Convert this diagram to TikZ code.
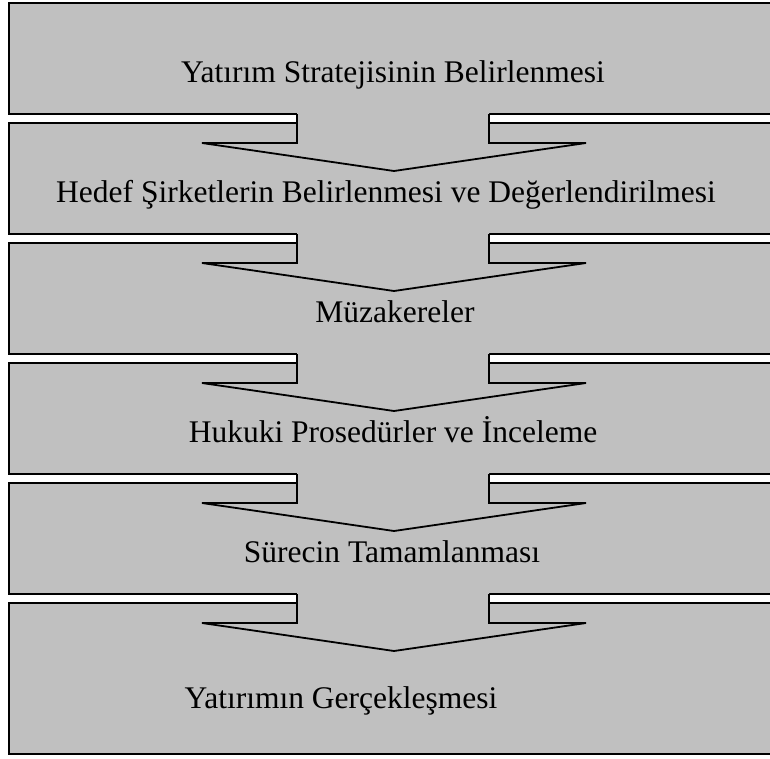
\documentclass[tikz,border=0pt]{standalone}
\usepackage{fontspec}
\setmainfont{Liberation Serif}
\definecolor{boxgray}{HTML}{C0C0C0}

\begin{document}
\begin{tikzpicture}[x=1pt,y=-1pt,
	stage/.style={draw,fill=boxgray,line width=1.8pt},
	flow/.style={draw,fill=boxgray,line width=1.8pt,line join=miter},
	caption/.style={anchor=base,inner sep=0pt,font=\fontsize{31.5}{38}\selectfont}]
	\useasboundingbox (0,0) rectangle (770,758);
	\clip (0,0) rectangle (770,758);
	% boxes
	\foreach \i in {0,...,4}
		\draw[stage] (9,3+120*\i) rectangle (800,114+120*\i);
	\draw[stage] (9,603) rectangle (800,754);
	% arrows between the boxes
	\foreach \i in {0,...,4}{
		\pgfmathsetmacro{\yb}{114+120*\i}
		\fill[boxgray] (297,\yb-6) -- (297,\yb+29) -- (202,\yb+29) -- (394,\yb+57) -- (586,\yb+29) -- (489,\yb+29) -- (489,\yb-6) -- cycle;
		\draw[flow] (297,\yb) -- (297,\yb+29) -- (202,\yb+29) -- (394,\yb+57) -- (586,\yb+29) -- (489,\yb+29) -- (489,\yb);
	}
	% labels
	\node[caption] (s1) at (393,82) {Yatırım Stratejisinin Belirlenmesi};
	\node[caption] (s2) at (386,202) {Hedef Şirketlerin Belirlenmesi ve Değerlendirilmesi};
	\node[caption] (s3) at (395,322) {Müzakereler};
	\node[caption] (s4) at (393,442) {Hukuki Prosedürler ve İnceleme};
	\node[caption] (s5) at (392,562) {Sürecin Tamamlanması};
	\node[caption] (s6) at (341,708) {Yatırımın Gerçekleşmesi};
\end{tikzpicture}
\end{document}
